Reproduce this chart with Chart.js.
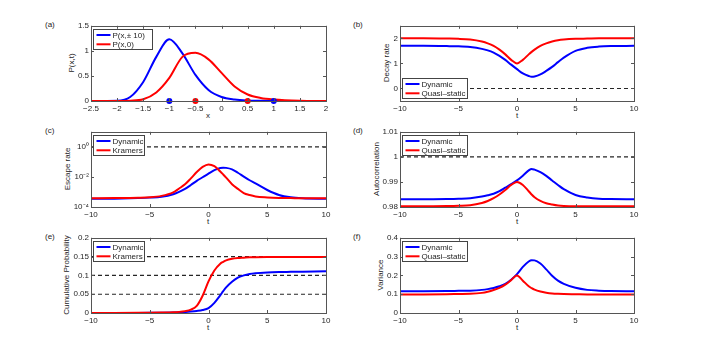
<!DOCTYPE html>
<html>
<head>
<meta charset="utf-8">
<script src="https://cdn.jsdelivr.net/npm/chart.js@4"></script>
<style>
body{margin:0;background:#fff;width:701px;height:352px;position:relative;overflow:hidden;font-family:"Liberation Sans",Arial,sans-serif;}
.panel{position:absolute}
.lbl{position:absolute;font-size:8px;line-height:10px;color:#262626;white-space:nowrap}
.yt{transform:translate(-50%,-50%) rotate(-90deg)}
.xt{transform:translate(-50%,-50%)}
</style>
</head>
<body>
<div class="lbl" style="left:45px;top:20px">(a)</div>
<div class="lbl" style="left:353px;top:20px">(b)</div>
<div class="lbl" style="left:45px;top:126px">(c)</div>
<div class="lbl" style="left:353px;top:126px">(d)</div>
<div class="lbl" style="left:45px;top:232px">(e)</div>
<div class="lbl" style="left:353px;top:232px">(f)</div>

<div class="lbl xt" style="left:208px;top:116px">x</div>
<div class="lbl xt" style="left:517px;top:116px">t</div>
<div class="lbl xt" style="left:208px;top:222px">t</div>
<div class="lbl xt" style="left:517px;top:222px">t</div>
<div class="lbl xt" style="left:208px;top:328px">t</div>
<div class="lbl xt" style="left:517px;top:328px">t</div>

<div class="lbl yt" style="left:72px;top:63px">P(x,t)</div>
<div class="lbl yt" style="left:387px;top:63px">Decay rate</div>
<div class="lbl yt" style="left:68px;top:169px">Escape rate</div>
<div class="lbl yt" style="left:377px;top:169px">Autocorrelation</div>
<div class="lbl yt" style="left:67px;top:275px">Cumulative Probability</div>
<div class="lbl yt" style="left:381px;top:275px">Variance</div>

<script>
// panel (a): probability densities
const xA = [-2.5, -2, -1.75, -1.5, -1.25, -1, -0.75, -0.5, -0.25, 0, 0.25, 0.5, 0.75, 1, 1.5, 2];
const pBlue = [0, 0.005, 0.08, 0.38, 0.88, 1.23, 0.95, 0.52, 0.22, 0.08, 0.03, 0.01, 0.004, 0.001, 0, 0];
const pRed = [0, 0.001, 0.006, 0.035, 0.17, 0.46, 0.88, 0.96, 0.83, 0.56, 0.29, 0.13, 0.06, 0.03, 0.006, 0.001];
const dotsBlueX = [-1, 1];
const dotsRedX = [-0.5, 0.5];
const dotsY = [0, 0];

// panels (b)-(f): time series
const tGrid = [-10, -8, -6, -5, -4, -3, -2.5, -2, -1.5, -1, -0.5, 0, 0.5, 1, 1.25, 1.5, 2, 2.5, 3, 3.5, 4, 5, 6, 7, 8, 10];
const decayDyn = [1.7, 1.7, 1.69, 1.68, 1.65, 1.58, 1.52, 1.43, 1.3, 1.14, 0.95, 0.77, 0.6, 0.5, 0.47, 0.48, 0.56, 0.7, 0.86, 1.05, 1.23, 1.5, 1.62, 1.67, 1.69, 1.7];
const decayQs = [2.0, 2.0, 1.99, 1.98, 1.95, 1.87, 1.8, 1.7, 1.55, 1.36, 1.14, 1.0, 1.14, 1.36, 1.46, 1.55, 1.7, 1.8, 1.87, 1.92, 1.95, 1.98, 1.99, 2.0, 2.0, 2.0];
const escapeDyn = [3.5e-4, 3.6e-4, 3.9e-4, 4.2e-4, 4.8e-4, 7e-4, 1e-3, 1.6e-3, 2.9e-3, 5.5e-3, 9.5e-3, 1.65e-2, 2.8e-2, 3.9e-2, 4.1e-2, 4.0e-2, 3.2e-2, 1.9e-2, 1.05e-2, 6e-3, 3.7e-3, 1.35e-3, 6.3e-4, 4.4e-4, 3.8e-4, 3.5e-4];
const escapeKr = [3.8e-4, 3.9e-4, 4.1e-4, 4.4e-4, 5.5e-4, 9.5e-4, 1.7e-3, 3.2e-3, 8e-3, 2.1e-2, 4.6e-2, 6.8e-2, 5.2e-2, 2.3e-2, 1.45e-2, 9e-3, 3.3e-3, 1.6e-3, 8.5e-4, 6.2e-4, 5e-4, 4.3e-4, 4e-4, 3.9e-4, 3.8e-4, 3.8e-4];
const autoDyn = [0.9831, 0.9831, 0.9832, 0.9833, 0.9835, 0.9842, 0.9847, 0.9853, 0.9863, 0.9877, 0.9891, 0.9906, 0.9925, 0.9946, 0.9952, 0.9949, 0.9939, 0.9924, 0.9906, 0.9888, 0.9871, 0.9848, 0.9838, 0.9833, 0.9832, 0.9831];
const autoQs = [0.9803, 0.9803, 0.9804, 0.9805, 0.9807, 0.9816, 0.9824, 0.9835, 0.985, 0.9868, 0.9888, 0.99, 0.9888, 0.9863, 0.985, 0.9839, 0.9824, 0.9815, 0.981, 0.9806, 0.9804, 0.9803, 0.9803, 0.9803, 0.9803, 0.9803];
const cumDyn = [0, 0.0001, 0.0003, 0.0005, 0.0008, 0.0013, 0.0018, 0.0025, 0.0038, 0.0055, 0.008, 0.013, 0.027, 0.047, 0.058, 0.068, 0.083, 0.094, 0.1, 0.104, 0.106, 0.108, 0.109, 0.1095, 0.11, 0.111];
const cumKr = [0, 0.0001, 0.0004, 0.0007, 0.0012, 0.002, 0.003, 0.005, 0.009, 0.019, 0.046, 0.084, 0.113, 0.131, 0.136, 0.14, 0.144, 0.146, 0.147, 0.148, 0.1485, 0.149, 0.149, 0.149, 0.149, 0.149];
const varDyn = [0.116, 0.116, 0.117, 0.118, 0.119, 0.123, 0.127, 0.133, 0.142, 0.155, 0.177, 0.207, 0.245, 0.274, 0.281, 0.28, 0.263, 0.232, 0.198, 0.172, 0.155, 0.134, 0.123, 0.119, 0.117, 0.116];
const varQs = [0.099, 0.099, 0.1, 0.101, 0.102, 0.107, 0.113, 0.122, 0.134, 0.151, 0.175, 0.2, 0.172, 0.142, 0.132, 0.124, 0.114, 0.108, 0.104, 0.102, 0.101, 0.1, 0.099, 0.099, 0.099, 0.099];

// dashed reference levels
const refB = [0];
const refC = [1];
const refD = [1];
const refE = [0.05, 0.1, 0.15];

// tick values
const xTicksA = [-2.5, -2, -1.5, -1, -0.5, 0, 0.5, 1, 1.5, 2];
const xTicksT = [-10, -5, 0, 5, 10];
const yTicksA = [0, 0.5, 1, 1.5];
const yTicksB = [0, 1, 2];
const yTicksC = [1e-4, 1e-2, 1];
const yTickLabelsC = ['10\u207B\u2074', '10\u207B\u00B2', '10\u2070'];
const yTicksD = [0.98, 0.99, 1, 1.01];
const yTicksE = [0, 0.05, 0.1, 0.15, 0.2];
const yTicksF = [0, 0.1, 0.2, 0.3, 0.4];

const BLUE = '#0000ff', RED = '#ff0000', INK = '#262626';
Chart.defaults.font.family = '"Liberation Sans", Arial, sans-serif';
Chart.defaults.font.size = 8;
Chart.defaults.color = INK;

function pts(xs, ys) {
    return xs.map((x, i) => ({x: x, y: ys[i]}));
}
function curve(xs, ys, color, order) {
    return {data: pts(xs, ys), borderColor: color, borderWidth: 2, pointRadius: 0,
            cubicInterpolationMode: 'monotone', fill: false, order: order};
}
function refLine(level, x0, x1) {
    return {data: [{x: x0, y: level}, {x: x1, y: level}], borderColor: INK, borderWidth: 1.1,
            borderDash: [4, 3], pointRadius: 0, fill: false, order: 5};
}
function fmt(v) {
    return String(v).replace('-', '\u2212');
}

// draws the MATLAB-like box, inward ticks and the legend
const matlabAxes = {
    id: 'matlabAxes',
    afterDraw(chart, args, opts) {
        const ctx = chart.ctx, a = chart.chartArea;
        const xs = chart.scales.x, ys = chart.scales.y;
        ctx.save();
        ctx.strokeStyle = '#555';
        ctx.lineWidth = 1;
        ctx.beginPath();
        xs.ticks.forEach(t => {
            const p = Math.round(xs.getPixelForValue(t.value)) + 0.5;
            ctx.moveTo(p, a.bottom); ctx.lineTo(p, a.bottom - 3);
            ctx.moveTo(p, a.top); ctx.lineTo(p, a.top + 3);
        });
        ys.ticks.forEach(t => {
            const p = Math.round(ys.getPixelForValue(t.value)) + 0.5;
            ctx.moveTo(a.left, p); ctx.lineTo(a.left + 3, p);
            ctx.moveTo(a.right, p); ctx.lineTo(a.right - 3, p);
        });
        ctx.stroke();
        ctx.strokeRect(Math.round(a.left) + 0.5, Math.round(a.top) + 0.5,
                       Math.round(a.right - a.left), Math.round(a.bottom - a.top));

        // legend box
        const w = opts.width, h = 20;
        const bx = Math.round(a.left) + 2.5;
        const by = opts.pos === 'bl' ? Math.round(a.bottom) - h - 2.5 : Math.round(a.top) + 3.5;
        ctx.fillStyle = '#fff';
        ctx.fillRect(bx, by, w, h);
        ctx.strokeStyle = '#444';
        ctx.strokeRect(bx, by, w, h);
        ctx.font = '8px "Liberation Sans", Arial, sans-serif';
        ctx.textBaseline = 'middle';
        opts.items.forEach((it, i) => {
            const y = by + 5.5 + i * 9.3;
            ctx.strokeStyle = it.color;
            ctx.lineWidth = 2;
            ctx.beginPath();
            ctx.moveTo(bx + 3, y); ctx.lineTo(bx + 17, y);
            ctx.stroke();
            ctx.fillStyle = INK;
            ctx.fillText(it.label, bx + 19, y + 0.5);
        });
        ctx.restore();
    }
};

function makePanel(p) {
    const div = document.createElement('div');
    div.className = 'panel';
    div.style.left = (p.L - 45) + 'px';
    div.style.top = (p.T - 6) + 'px';
    div.style.width = (p.W + 57) + 'px';
    div.style.height = (p.H + 20) + 'px';
    const canvas = document.createElement('canvas');
    div.appendChild(canvas);
    document.body.appendChild(div);

    new Chart(canvas.getContext('2d'), {
        type: 'line',
        data: {datasets: p.datasets},
        options: {
            responsive: true,
            maintainAspectRatio: false,
            animation: false,
            events: [],
            layout: {autoPadding: false, padding: {left: 0, top: 6, right: 12, bottom: 0}},
            plugins: {
                legend: {display: false},
                tooltip: {enabled: false},
                matlabAxes: {items: p.legend, pos: p.legendPos, width: p.legendWidth}
            },
            scales: {
                x: {
                    type: 'linear', min: p.xMin, max: p.xMax,
                    grid: {display: false, drawTicks: false}, border: {display: false},
                    ticks: {padding: 3, maxRotation: 0, autoSkip: false, callback: v => fmt(v)},
                    afterBuildTicks: s => { s.ticks = p.xTicks.map(v => ({value: v})); },
                    afterFit: s => { s.height = 14; }
                },
                y: {
                    type: p.yType || 'linear', min: p.yMin, max: p.yMax,
                    grid: {display: false, drawTicks: false}, border: {display: false},
                    ticks: {padding: 2, autoSkip: false,
                            callback: (v, i) => p.yLabels ? p.yLabels[i] : fmt(v)},
                    afterBuildTicks: s => { s.ticks = p.yTicks.map(v => ({value: v})); },
                    afterFit: s => { s.width = 45; }
                }
            }
        },
        plugins: [matlabAxes]
    });
}

const legDynQs = [{label: 'Dynamic', color: BLUE}, {label: 'Quasi\u2013static', color: RED}];
const legDynKr = [{label: 'Dynamic', color: BLUE}, {label: 'Kramers', color: RED}];

makePanel({
    L: 91, T: 25, W: 235, H: 76, xMin: -2.5, xMax: 2, yMin: 0, yMax: 1.5,
    xTicks: xTicksA, yTicks: yTicksA,
    legend: [{label: 'P(x,\u00B1 10)', color: BLUE}, {label: 'P(x,0)', color: RED}],
    legendPos: 'tl', legendWidth: 59,
    datasets: [
        {data: pts(dotsBlueX, dotsY), showLine: false, pointRadius: 3, pointBorderWidth: 0,
         pointBackgroundColor: BLUE, clip: false, order: -1},
        {data: pts(dotsRedX, dotsY), showLine: false, pointRadius: 3, pointBorderWidth: 0,
         pointBackgroundColor: RED, clip: false, order: -1},
        curve(xA, pRed, RED, 0),
        curve(xA, pBlue, BLUE, 1)
    ]
});

makePanel({
    L: 400, T: 25, W: 234, H: 76, xMin: -10, xMax: 10, yMin: -0.5, yMax: 2.5,
    xTicks: xTicksT, yTicks: yTicksB,
    legend: legDynQs, legendPos: 'bl', legendWidth: 65,
    datasets: [
        curve(tGrid, decayQs, RED, 0),
        curve(tGrid, decayDyn, BLUE, 1),
        refLine(refB[0], -10, 10)
    ]
});

makePanel({
    L: 91, T: 131, W: 235, H: 76, xMin: -10, xMax: 10, yMin: 1e-4, yMax: 10, yType: 'logarithmic',
    xTicks: xTicksT, yTicks: yTicksC, yLabels: yTickLabelsC,
    legend: legDynKr, legendPos: 'tl', legendWidth: 51,
    datasets: [
        curve(tGrid, escapeKr, RED, 0),
        curve(tGrid, escapeDyn, BLUE, 1),
        refLine(refC[0], -10, 10)
    ]
});

makePanel({
    L: 400, T: 131, W: 234, H: 76, xMin: -10, xMax: 10, yMin: 0.98, yMax: 1.01,
    xTicks: xTicksT, yTicks: yTicksD,
    legend: legDynQs, legendPos: 'tl', legendWidth: 65,
    datasets: [
        curve(tGrid, autoQs, RED, 0),
        curve(tGrid, autoDyn, BLUE, 1),
        refLine(refD[0], -10, 10)
    ]
});

makePanel({
    L: 91, T: 237, W: 235, H: 76, xMin: -10, xMax: 10, yMin: 0, yMax: 0.2,
    xTicks: xTicksT, yTicks: yTicksE,
    legend: legDynKr, legendPos: 'tl', legendWidth: 51,
    datasets: [
        curve(tGrid, cumKr, RED, 0),
        curve(tGrid, cumDyn, BLUE, 1)
    ].concat(refE.map(v => refLine(v, -10, 10)))
});

makePanel({
    L: 400, T: 237, W: 234, H: 76, xMin: -10, xMax: 10, yMin: 0, yMax: 0.4,
    xTicks: xTicksT, yTicks: yTicksF,
    legend: legDynQs, legendPos: 'tl', legendWidth: 65,
    datasets: [
        curve(tGrid, varQs, RED, 0),
        curve(tGrid, varDyn, BLUE, 1)
    ]
});
</script>
</body>
</html>
